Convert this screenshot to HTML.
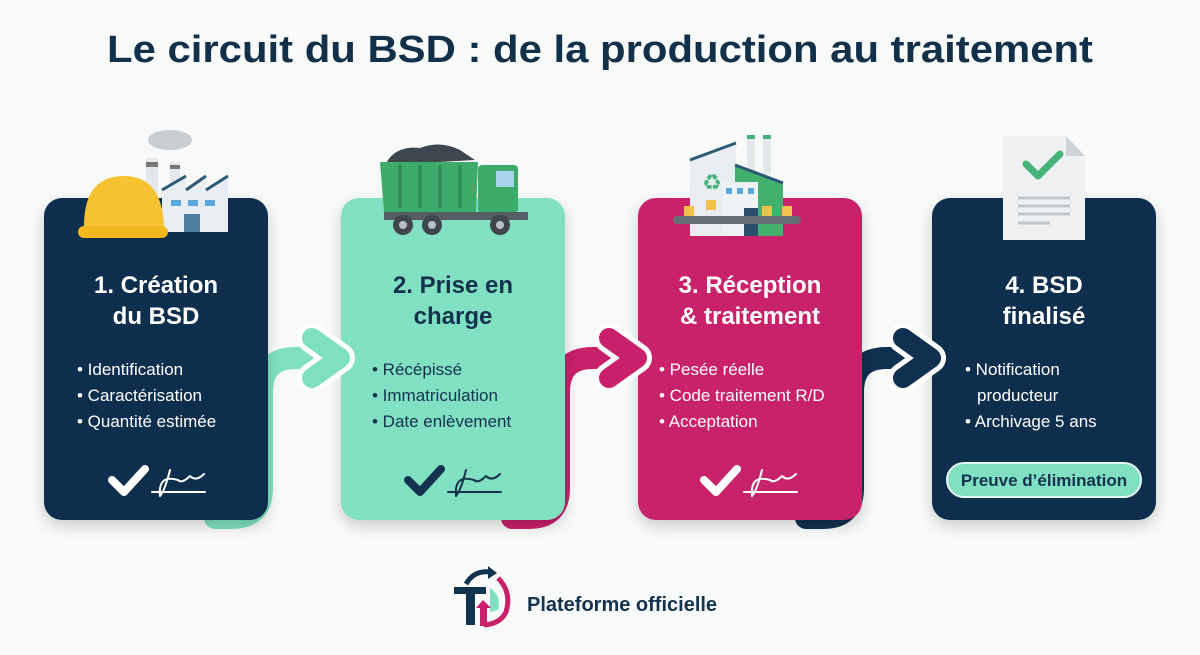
<!DOCTYPE html>
<html><head><meta charset="utf-8"><style>
html,body{margin:0;padding:0;background:#f8f9f9;}
svg{display:block}
text{font-family:"Liberation Sans",sans-serif;}
</style></head><body>
<svg width="1200" height="655" viewBox="0 0 1200 655" xmlns="http://www.w3.org/2000/svg">
<defs>
<filter id="sh" x="-20%" y="-20%" width="140%" height="140%"><feDropShadow dx="0" dy="6" stdDeviation="7" flood-color="#000" flood-opacity="0.18"/></filter>
</defs>
<rect width="1200" height="655" fill="#f8f9f9"/>
<text x="600" y="62" text-anchor="middle" font-size="38" font-weight="bold" fill="#133049" textLength="986" lengthAdjust="spacingAndGlyphs">Le circuit du BSD : de la production au traitement</text>

<!-- connectors (tails) -->
<g fill="none" stroke-linecap="round" stroke-linejoin="round">
<path d="M215 518 L232 518 Q262 518 262 488 L262 392 Q262 358 296 358 L326 358" stroke="#7fe0c0" stroke-width="22"/>
<path d="M512 518 L529 518 Q559 518 559 488 L559 392 Q559 358 593 358 L623 358" stroke="#c8206a" stroke-width="22"/>
<path d="M806 518 L823 518 Q853 518 853 488 L853 392 Q853 358 887 358 L917 358" stroke="#10304f" stroke-width="22"/>
</g>

<!-- cards -->
<rect x="44" y="198" width="224" height="322" rx="18" fill="#0f2f4d" filter="url(#sh)"/>
<rect x="341" y="198" width="224" height="322" rx="18" fill="#80e0c1" filter="url(#sh)"/>
<rect x="638" y="198" width="224" height="322" rx="18" fill="#c8206a" filter="url(#sh)"/>
<rect x="932" y="198" width="224" height="322" rx="18" fill="#0f2f4d" filter="url(#sh)"/>

<!-- arrowheads -->
<g fill="none" stroke-linecap="round" stroke-linejoin="round">
<polyline points="312,338 340,358 312,378" stroke="#fff" stroke-width="30"/>
<polyline points="312,338 340,358 312,378" stroke="#7fe0c0" stroke-width="20"/>
<polyline points="609,338 637,358 609,378" stroke="#fff" stroke-width="30"/>
<polyline points="609,338 637,358 609,378" stroke="#c8206a" stroke-width="20"/>
<polyline points="903,338 931,358 903,378" stroke="#fff" stroke-width="30"/>
<polyline points="903,338 931,358 903,378" stroke="#10304f" stroke-width="20"/>
</g>

<!-- icon 1: helmet + factory -->
<g>
<ellipse cx="170" cy="140" rx="22" ry="10" fill="#c9cdd2"/>
<rect x="146" y="158" width="12" height="75" fill="#e4e8ec"/><rect x="146" y="162" width="12" height="5" fill="#777"/>
<rect x="170" y="162" width="10" height="70" fill="#e4e8ec"/><rect x="170" y="165" width="10" height="4" fill="#777"/>
<polygon points="162,190 186,176 186,190 206,176 206,190 228,176 228,232 162,232" fill="#e8edf1"/>
<polyline points="162,190 186,176 M186,190" fill="none"/>
<path d="M162 190 L186 176 M186 190 L206 176 M206 190 L228 176" stroke="#2d5a75" stroke-width="3"/>
<rect x="171" y="200" width="10" height="6" fill="#5aa8de"/><rect x="188" y="200" width="10" height="6" fill="#5aa8de"/><rect x="205" y="200" width="10" height="6" fill="#5aa8de"/>
<rect x="184" y="214" width="16" height="18" fill="#4c7ea2"/>
<path d="M84 226 Q84 176 124 176 Q162 176 164 226 Z" fill="#f7c230"/>
<rect x="78" y="226" width="90" height="12" rx="6" fill="#f4b81f"/>
</g>

<!-- icon 2: truck -->
<g>
<path d="M385 165 Q395 145 420 148 Q440 140 460 150 L475 160 L385 165Z" fill="#3e474f"/>
<polygon points="380,162 478,162 476,212 384,212" fill="#3dab6a"/>
<g stroke="#2e8a52" stroke-width="3"><line x1="400" y1="165" x2="400" y2="208"/><line x1="420" y1="165" x2="420" y2="208"/><line x1="440" y1="165" x2="440" y2="208"/><line x1="460" y1="165" x2="460" y2="208"/></g>
<rect x="478" y="165" width="40" height="48" rx="4" fill="#3dab6a"/>
<rect x="496" y="171" width="18" height="16" fill="#a9d4ec"/>
<rect x="384" y="212" width="144" height="8" fill="#555d63"/>
<g fill="#3f464c"><circle cx="403" cy="225" r="10"/><circle cx="432" cy="225" r="10"/><circle cx="500" cy="225" r="10"/></g>
<g fill="#b8bec3"><circle cx="403" cy="225" r="4"/><circle cx="432" cy="225" r="4"/><circle cx="500" cy="225" r="4"/></g>
</g>

<!-- icon 3: recycling plant -->
<g>
<polygon points="690,160 736,143 736,236 690,236" fill="#e8edf1"/>
<path d="M690 160 L736 143" stroke="#2d5a75" stroke-width="3"/>
<text x="712" y="190" text-anchor="middle" font-size="22" fill="#46b37a">♻</text>
<rect x="747" y="135" width="8" height="40" fill="#e4e8ec"/><rect x="763" y="135" width="8" height="40" fill="#e4e8ec"/>
<rect x="747" y="135" width="8" height="4" fill="#46b37a"/><rect x="763" y="135" width="8" height="4" fill="#46b37a"/>
<polygon points="735,165 783,183 783,236 735,236" fill="#43b06d"/>
<path d="M735 165 L783 183" stroke="#2d5a75" stroke-width="3"/>
<rect x="722" y="182" width="36" height="54" fill="#eef2f5"/>
<rect x="726" y="188" width="6" height="6" fill="#5aa8de"/><rect x="737" y="188" width="6" height="6" fill="#5aa8de"/><rect x="748" y="188" width="6" height="6" fill="#5aa8de"/>
<rect x="744" y="208" width="14" height="28" fill="#2c4f6e"/>
<rect x="706" y="200" width="10" height="10" fill="#f0c24c"/><rect x="684" y="206" width="10" height="10" fill="#f0c24c"/>
<rect x="762" y="206" width="10" height="10" fill="#f0c24c"/><rect x="782" y="206" width="10" height="10" fill="#f0c24c"/>
<rect x="673" y="216" width="128" height="8" rx="4" fill="#666d73"/>
</g>

<!-- icon 4: document -->
<g>
<path d="M1003 136 L1066 136 L1085 156 L1085 240 L1003 240 Z" fill="#eef0f2"/>
<path d="M1066 136 L1066 156 L1085 156 Z" fill="#cfd3d7"/>
<polyline points="1026,164 1038,176 1060,154" fill="none" stroke="#46b37a" stroke-width="7" stroke-linecap="round" stroke-linejoin="round"/>
<g stroke="#c2c7cc" stroke-width="3"><line x1="1018" y1="198" x2="1070" y2="198"/><line x1="1018" y1="206" x2="1070" y2="206"/><line x1="1018" y1="214" x2="1070" y2="214"/><line x1="1018" y1="223" x2="1050" y2="223"/></g>
</g>

<!-- card texts -->
<g font-weight="bold" font-size="24" text-anchor="middle">
<text x="156" y="293" fill="#fff">1. Création</text>
<text x="156" y="324" fill="#fff">du BSD</text>
<text x="453" y="293" fill="#13324d">2. Prise en</text>
<text x="453" y="324" fill="#13324d">charge</text>
<text x="750" y="293" fill="#fff">3. Réception</text>
<text x="750" y="324" fill="#fff">&amp; traitement</text>
<text x="1044" y="293" fill="#fff">4. BSD</text>
<text x="1044" y="324" fill="#fff">finalisé</text>
</g>
<g font-size="17">
<g fill="#fff"><text x="77" y="375">• Identification</text><text x="77" y="401">• Caractérisation</text><text x="77" y="427">• Quantité estimée</text></g>
<g fill="#13324d"><text x="372" y="375">• Récépissé</text><text x="372" y="401">• Immatriculation</text><text x="372" y="427">• Date enlèvement</text></g>
<g fill="#fff"><text x="659" y="375">• Pesée réelle</text><text x="659" y="401">• Code traitement R/D</text><text x="659" y="427">• Acceptation</text></g>
<g fill="#fff"><text x="965" y="375">• Notification</text><text x="977" y="401">producteur</text><text x="965" y="427">• Archivage 5 ans</text></g>
</g>

<!-- check + signature -->
<g fill="none" stroke-linecap="round" stroke-linejoin="round">
<g stroke="#fff"><polyline points="112,480 124,492 145,469" stroke-width="8"/><path d="M152 492 L160 492 M158 492 L205 492" stroke-width="2"/><path d="M170 470 Q165 490 160 496 Q158 474 178 480 Q182 484 190 476 Q196 482 204 474" stroke-width="2"/></g>
<g stroke="#13324d"><polyline points="408,480 420,492 441,469" stroke-width="8"/><path d="M448 492 L456 492 M454 492 L501 492" stroke-width="2"/><path d="M466 470 Q461 490 456 496 Q454 474 474 480 Q478 484 486 476 Q492 482 500 474" stroke-width="2"/></g>
<g stroke="#fff"><polyline points="704,480 716,492 737,469" stroke-width="8"/><path d="M744 492 L752 492 M750 492 L797 492" stroke-width="2"/><path d="M762 470 Q757 490 752 496 Q750 474 770 480 Q774 484 782 476 Q788 482 796 474" stroke-width="2"/></g>
</g>

<!-- badge -->
<rect x="947" y="463" width="194" height="34" rx="17" fill="#80e0c1" stroke="#e6faf3" stroke-width="2"/>
<text x="1044" y="486" text-anchor="middle" font-size="17" font-weight="bold" fill="#13324d">Preuve d’élimination</text>

<!-- logo -->
<g>
<path d="M466 584 Q474 570 490 572" fill="none" stroke="#13324d" stroke-width="5"/>
<polygon points="488,566 497,573 488,579" fill="#13324d"/>
<path d="M498 578 Q512 592 506 612 Q500 624 484 625" fill="none" stroke="#c8206a" stroke-width="5"/>
<path d="M490 588 Q502 596 498 610 L490 612 Z" fill="#80e0c1"/>
<rect x="454" y="587" width="32" height="7" fill="#13324d"/>
<rect x="466" y="587" width="9" height="38" fill="#13324d"/>
<rect x="480" y="606" width="7" height="20" fill="#c8206a"/>
<polygon points="476,608 483,600 491,608" fill="#c8206a"/>
<text x="527" y="611" font-size="20" font-weight="bold" fill="#13324d">Plateforme officielle</text>
</g>
</svg>
</body></html>
